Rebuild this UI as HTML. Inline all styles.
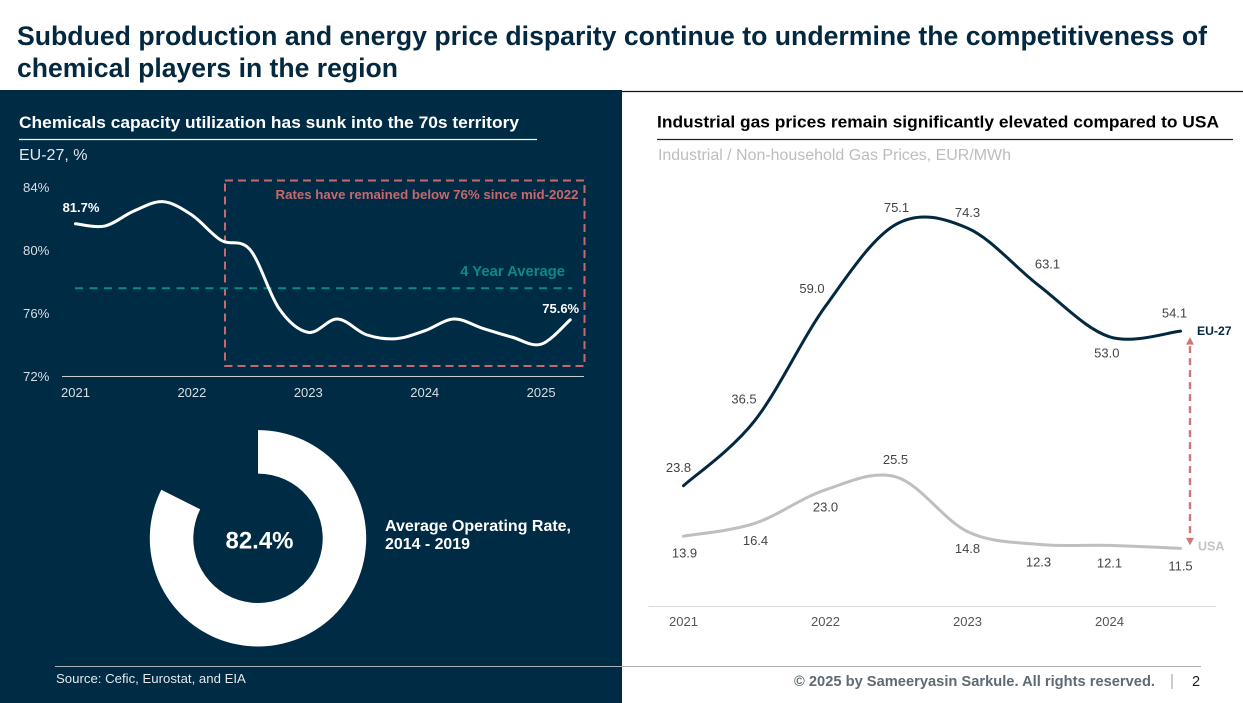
<!DOCTYPE html>
<html lang="en">
<head>
<meta charset="utf-8">
<title>Chemical competitiveness</title>
<style>
html,body{margin:0;padding:0;background:#fff;width:1243px;height:703px;overflow:hidden}
svg{display:block;font-family:"Liberation Sans",sans-serif}
</style>
</head>
<body>
<svg id="slide" width="1243" height="703" viewBox="0 0 1243 703" xmlns="http://www.w3.org/2000/svg">
  <rect x="0" y="90" width="622" height="613" fill="#002b45"/>
  <line x1="622" y1="91.5" x2="1243" y2="91.5" stroke="#111" stroke-width="1.2"/>
  <text x="17" y="45" font-size="27" font-weight="700" fill="#03283f" textLength="1190" lengthAdjust="spacingAndGlyphs">Subdued production and energy price disparity continue to undermine the competitiveness of</text>
  <text x="17" y="77" font-size="27" font-weight="700" fill="#03283f" textLength="381" lengthAdjust="spacingAndGlyphs">chemical players in the region</text>

  <text x="19" y="128" font-size="17" font-weight="700" fill="#fff" textLength="500" lengthAdjust="spacingAndGlyphs">Chemicals capacity utilization has sunk into the 70s territory</text>
  <line x1="19" y1="139.5" x2="537" y2="139.5" stroke="#fff" stroke-width="1.2"/>
  <text x="19" y="160" font-size="16" fill="#e4e8ec">EU-27, %</text>

  <g id="left-chart"></g>
  <g id="donut"></g>
  <text x="385" y="531" font-size="16" font-weight="700" fill="#fff" textLength="186" lengthAdjust="spacingAndGlyphs">Average Operating Rate,</text>
  <text x="385" y="549" font-size="16" font-weight="700" fill="#fff" textLength="85" lengthAdjust="spacingAndGlyphs">2014 - 2019</text>

  <text x="657" y="127.5" font-size="17" font-weight="700" fill="#000" textLength="562" lengthAdjust="spacingAndGlyphs">Industrial gas prices remain significantly elevated compared to USA</text>
  <line x1="657" y1="139.5" x2="1233" y2="139.5" stroke="#222" stroke-width="1.2"/>
  <text x="658" y="160" font-size="16" fill="#bdbdbd" textLength="353" lengthAdjust="spacingAndGlyphs">Industrial / Non-household Gas Prices, EUR/MWh</text>

  <g id="right-chart"></g>

  <line x1="55" y1="666.5" x2="1201" y2="666.5" stroke="#aab0b5" stroke-width="1"/>
  <text x="56" y="683" font-size="13.2" fill="#e4e8ec">Source: Cefic, Eurostat, and EIA</text>
  <text x="794" y="686" font-size="15" font-weight="700" fill="#5f6a72" textLength="361" lengthAdjust="spacingAndGlyphs">© 2025 by Sameeryasin Sarkule. All rights reserved.</text>
  <line x1="1172" y1="674" x2="1172" y2="689" stroke="#999" stroke-width="1"/>
  <text x="1192" y="686" font-size="14.5" fill="#222">2</text>
</svg>
<script>
/* Left chart data */
const utilYearLabels = ['2021', '2022', '2023', '2024', '2025'];
const utilYTicks = [72, 76, 80, 84];
const utilValues = [81.7, 81.55, 82.5, 83.1, 82.25, 80.65, 80.05, 76.3, 74.8, 75.65, 74.65, 74.4, 74.9, 75.65, 75.05, 74.5, 74.05, 75.6];
const utilAverage = [77.6];
/* Donut data */
const donutValues = [82.4, 17.6];
/* Right chart data */
const gasYearLabels = ['2021', '2022', '2023', '2024'];
const euPrices = [23.8, 36.5, 59.0, 75.1, 74.3, 63.1, 53.0, 54.1];
const usaPrices = [13.9, 16.4, 23.0, 25.5, 14.8, 12.3, 12.1, 11.5];

const NS = 'http://www.w3.org/2000/svg';
function mk(tag, parent, attrs) {
  const el = document.createElementNS(NS, tag);
  for (const k in attrs) el.setAttribute(k, attrs[k]);
  parent.appendChild(el);
  return el;
}
function smoothPath(pts) {
  let d = 'M' + pts[0][0].toFixed(2) + ' ' + pts[0][1].toFixed(2);
  for (let i = 0; i < pts.length - 1; i++) {
    const p0 = pts[Math.max(i - 1, 0)], p1 = pts[i], p2 = pts[i + 1], p3 = pts[Math.min(i + 2, pts.length - 1)];
    const c1x = p1[0] + (p2[0] - p0[0]) / 6, c1y = p1[1] + (p2[1] - p0[1]) / 6;
    const c2x = p2[0] - (p3[0] - p1[0]) / 6, c2y = p2[1] - (p3[1] - p1[1]) / 6;
    d += 'C' + c1x.toFixed(2) + ' ' + c1y.toFixed(2) + ' ' + c2x.toFixed(2) + ' ' + c2y.toFixed(2) + ' ' + p2[0].toFixed(2) + ' ' + p2[1].toFixed(2);
  }
  return d;
}

/* ---------- Left chart ---------- */
(function () {
  const g = document.getElementById('left-chart');
  const xQ = i => 75.5 + i * 29.1;
  const y = v => 376.5 - (v - 72) * 15.75;

  utilYTicks.forEach(t => {
    const el = mk('text', g, { x: 23, y: y(t) + 4.5, 'font-size': 13.2, fill: '#d9dee3' });
    
    
    el.textContent = t + '%';
  });
  utilYearLabels.forEach((t, i) => {
    const el = mk('text', g, { x: xQ(i * 4), y: 397, 'font-size': 13, fill: '#d9dee3', 'text-anchor': 'middle' });
    
    
    el.textContent = t;
  });
  const axis = mk('line', g, { x1: 62, y1: y(72), x2: 584, y2: y(72), stroke: '#c9ccd0', 'stroke-width': 1 });
  
  

  const box = mk('rect', g, { x: 225, y: 180.5, width: 359.5, height: 185.5, fill: 'none', stroke: '#c8686c', 'stroke-width': 2, 'stroke-dasharray': '8 5' });
  
  
  const boxText = mk('text', g, { x: 578.5, y: 199, 'font-size': 13.2, 'font-weight': 700, fill: '#c8686c', 'text-anchor': 'end', textLength: 303, lengthAdjust: 'spacingAndGlyphs' });
  
  
  boxText.textContent = 'Rates have remained below 76% since mid-2022';

  const avg = mk('line', g, { x1: 75, y1: y(utilAverage[0]), x2: 572, y2: y(utilAverage[0]), stroke: '#0b8a85', 'stroke-width': 2, 'stroke-dasharray': '8 6.5' });
  
  
  const avgText = mk('text', g, { x: 565, y: 276, 'font-size': 14.8, 'font-weight': 700, fill: '#0b8a85', 'text-anchor': 'end' });
  
  
  avgText.textContent = '4 Year Average';

  const line = mk('path', g, { d: smoothPath(utilValues.map((v, i) => [xQ(i), y(v)])), fill: 'none', stroke: '#fff', 'stroke-width': 3, 'stroke-linecap': 'round' });
  
  

  const last = utilValues.length - 1;
  const first = mk('text', g, { x: xQ(0) + 5.5, y: y(utilValues[0]) - 11.5, 'font-size': 13, 'font-weight': 700, fill: '#fff', 'text-anchor': 'middle' });
  
  
  first.textContent = utilValues[0].toFixed(1) + '%';
  const end = mk('text', g, { x: xQ(last) - 9.5, y: y(utilValues[last]) - 7, 'font-size': 13, 'font-weight': 700, fill: '#fff', 'text-anchor': 'middle' });
  
  
  end.textContent = utilValues[last].toFixed(1) + '%';
})();

/* ---------- Donut ---------- */
(function () {
  const g = document.getElementById('donut');
  const cx = 258, cy = 538.3, R = 108.2, r = 64.7;
  const total = donutValues[0] + donutValues[1];
  const a = donutValues[0] / total * 2 * Math.PI;
  const large = a > Math.PI ? 1 : 0;
  const px = (rad, t) => cx + rad * Math.sin(t);
  const py = (rad, t) => cy - rad * Math.cos(t);
  const d = 'M' + px(R, 0) + ' ' + py(R, 0) +
    'A' + R + ' ' + R + ' 0 ' + large + ' 1 ' + px(R, a) + ' ' + py(R, a) +
    'L' + px(r, a) + ' ' + py(r, a) +
    'A' + r + ' ' + r + ' 0 ' + large + ' 0 ' + px(r, 0) + ' ' + py(r, 0) + 'Z';
  const arc = mk('path', g, { d: d, fill: '#fff' });
  
  
  const label = mk('text', g, { x: cx + 1.5, y: cy + 10, 'font-size': 24, 'font-weight': 700, fill: '#fff', 'text-anchor': 'middle' });
  
  
  label.textContent = donutValues[0].toFixed(1) + '%';
})();

/* ---------- Right chart ---------- */
(function () {
  const g = document.getElementById('right-chart');
  const xH = i => 683.5 + i * 71;
  const y = v => 485.7 - (v - 23.8) * 5.1;

  const axis = mk('line', g, { x1: 648.5, y1: 606.5, x2: 1216, y2: 606.5, stroke: '#dcdcdc', 'stroke-width': 1 });
  
  
  gasYearLabels.forEach((t, i) => {
    const el = mk('text', g, { x: xH(i * 2), y: 626, 'font-size': 13, fill: '#555', 'text-anchor': 'middle' });
    
    
    el.textContent = t;
  });

  const usa = mk('path', g, { d: smoothPath(usaPrices.map((v, i) => [xH(i), y(v)])), fill: 'none', stroke: '#bfbfbf', 'stroke-width': 3, 'stroke-linecap': 'round' });
  
  
  const eu = mk('path', g, { d: smoothPath(euPrices.map((v, i) => [xH(i), y(v)])), fill: 'none', stroke: '#03283f', 'stroke-width': 3, 'stroke-linecap': 'round' });
  
  

  const euOffsets = [[-5, -18], [-10.5, -22], [-13.5, -17.5], [0, -16.5], [0, -15.5], [9, -21.5], [-2.7, 16], [-6, -18]];
  const usaOffsets = [[1, 16.7], [1, 17], [0, 17], [-1, -17.7], [0, 17], [0, 17.7], [0, 17.7], [0, 17.7]];
  euPrices.forEach((v, i) => {
    const el = mk('text', g, { x: xH(i) + euOffsets[i][0], y: y(v) + euOffsets[i][1] + 4.5, 'font-size': 13, fill: '#444', 'text-anchor': 'middle' });
    
    
    el.textContent = v.toFixed(1);
  });
  usaPrices.forEach((v, i) => {
    const el = mk('text', g, { x: xH(i) + usaOffsets[i][0], y: y(v) + usaOffsets[i][1] + 4.5, 'font-size': 13, fill: '#444', 'text-anchor': 'middle' });
    
    
    el.textContent = v.toFixed(1);
  });

  const euEnd = y(euPrices[euPrices.length - 1]);
  const usaEnd = y(usaPrices[usaPrices.length - 1]);
  const ax = 1190;
  const gapLine = mk('line', g, { x1: ax, y1: euEnd + 15, x2: ax, y2: usaEnd - 12, stroke: '#d0777b', 'stroke-width': 2.4, 'stroke-dasharray': '7 5' });
  
  
  const up = mk('path', g, { d: 'M' + ax + ' ' + (euEnd + 6) + 'l4 7.5h-8z', fill: '#d0777b' });
  
  
  const down = mk('path', g, { d: 'M' + ax + ' ' + (usaEnd - 3) + 'l4 -7.5h-8z', fill: '#d0777b' });
  
  

  const euLab = mk('text', g, { x: 1197, y: euEnd + 4, 'font-size': 12.2, 'font-weight': 700, fill: '#03283f' });
  
  
  euLab.textContent = 'EU-27';
  const usaLab = mk('text', g, { x: 1198, y: usaEnd + 2, 'font-size': 12.5, 'font-weight': 700, fill: '#c4c4c4' });
  
  
  usaLab.textContent = 'USA';
})();
</script>
</body>
</html>
